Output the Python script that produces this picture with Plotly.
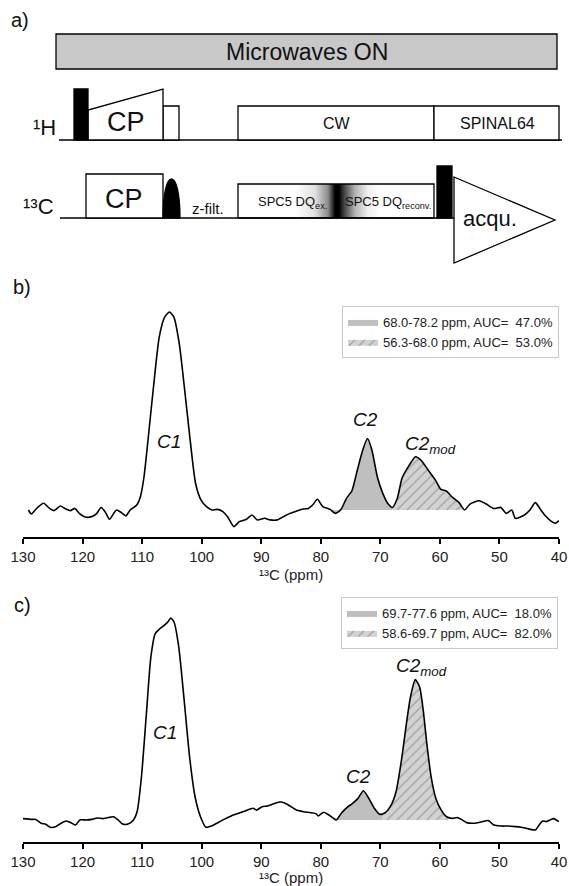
import numpy as np
import plotly.graph_objects as go

# ---------------- spectral data (13C ppm, relative intensity) ----------------
ppm_b = [129.08, 128.60, 127.56, 126.52, 125.55, 124.81, 123.72, 122.98, 122.07, 121.27,
         120.54, 119.32, 118.22, 117.61, 116.88, 116.15, 115.48, 114.32, 113.53, 112.73,
         112.00, 110.90, 110.29, 109.68, 108.95, 108.03, 107.12, 106.20, 105.41, 104.68,
         103.76, 102.85, 101.93, 101.02, 100.10, 99.19, 98.27, 97.36, 96.44, 95.65,
         94.61, 93.69, 92.47, 91.56, 90.64, 89.42, 88.51, 87.29, 86.07, 85.15,
         84.24, 83.32, 82.10, 81.37, 80.58, 79.66, 78.44, 77.53, 76.61, 75.69,
         74.78, 73.86, 72.95, 72.16, 71.42, 70.51, 69.59, 68.68, 67.95, 67.15,
         66.36, 65.32, 64.10, 63.19, 61.97, 60.75, 59.83, 58.92, 58.00, 56.78,
         55.86, 54.95, 53.42, 52.20, 50.98, 49.76, 48.85, 47.93, 47.32, 45.80,
         44.88, 43.97, 43.05, 42.14, 41.22, 40.61, 40.00]
int_b = [0.0, -2.0, 1.3, 3.4, 0.8, -0.3, 2.0, 0.8, -0.3, 0.8,
         -1.7, -3.7, -3.0, -1.7, 1.3, -1.2, -4.7, 0.0, -1.2, -3.0,
         0.0, 2.5, 6.7, 16.8, 37.0, 63.9, 87.4, 97.5, 100.0, 97.5,
         84.0, 60.5, 35.3, 13.4, 5.0, 1.7, 0.0, 0.3, -0.8, -3.4,
         -8.4, -5.9, -4.7, -2.5, -5.0, -4.2, -5.0, -5.0, -3.0, -1.7,
         -0.8, 0.3, 0.8, 2.5, 5.4, 1.7, 0.3, -1.7, 0.3, 5.9,
         9.7, 20.2, 30.3, 36.1, 30.3, 16.8, 8.4, 3.0, 1.3, 5.9,
         16.0, 21.8, 26.9, 25.2, 20.2, 15.1, 10.4, 9.6, 6.7, 3.7,
         0.0, 3.0, 4.7, 3.0, 0.8, 1.3, -1.7, 0.0, -4.2, -2.5,
         0.0, 3.7, 0.0, -3.4, -5.9, -6.7, -5.4]

ppm_c = [130.00, 128.48, 127.87, 126.96, 126.17, 125.44, 124.53, 123.61, 122.70, 121.79,
         121.18, 120.45, 119.36, 118.45, 117.53, 116.62, 115.71, 114.80, 114.01, 113.28,
         112.36, 111.45, 110.84, 110.11, 109.32, 108.53, 107.80, 107.20, 106.28, 105.68,
         105.19, 104.64, 103.85, 102.94, 102.03, 101.11, 100.20, 99.29, 98.38, 97.47,
         96.25, 95.03, 93.82, 92.60, 91.38, 90.78, 89.86, 88.95, 87.74, 86.82,
         85.91, 85.00, 84.09, 82.87, 81.66, 80.74, 80.44, 79.53, 78.92, 78.01,
         77.40, 76.49, 75.57, 74.66, 73.75, 72.84, 71.93, 71.01, 70.10, 69.19,
         68.28, 67.36, 66.45, 65.54, 64.93, 64.14, 63.41, 62.80, 62.20, 61.47,
         60.68, 59.77, 58.86, 57.94, 57.03, 56.42, 55.51, 54.29, 53.07, 51.86,
         50.95, 49.73, 48.51, 47.30, 46.39, 45.47, 44.86, 43.95, 43.34, 42.74,
         42.13, 41.52, 40.91, 40.00]
int_c = [0.7, 0.3, 0.3, -1.6, -2.1, -3.6, -3.3, -1.6, -0.5, -1.6,
         -2.5, 0.0, 0.0, 0.3, 1.0, 0.7, 1.2, 1.6, 0.0, -2.0,
         -2.0, 0.0, 4.1, 21.4, 51.1, 80.7, 92.3, 94.2, 96.4, 98.0,
         100.0, 98.0, 85.7, 59.3, 31.3, 11.5, 1.6, -3.6, -3.0, -1.6,
         0.3, 2.0, 3.3, 4.6, 5.8, 4.9, 6.6, 6.9, 8.2, 8.9,
         8.2, 6.6, 4.9, 4.1, 3.6, 3.0, 2.0, 3.8, 3.0, 1.2,
         0.0, 3.6, 6.3, 8.2, 10.7, 14.5, 10.7, 5.8, 2.8, 3.6,
         6.9, 14.0, 29.7, 49.4, 61.0, 69.5, 65.9, 54.4, 37.9, 21.4,
         10.7, 4.9, 1.6, 0.8, 1.2, 0.3, -1.3, -1.6, -1.0, -0.3,
         -2.5, -3.0, -3.0, -3.3, -3.6, -4.1, -4.6, -4.9, -2.5, -0.5,
         -0.8, 0.0, 0.7, -0.8]

# integration regions (ppm high, ppm low) and their legend texts
regions_b = [(78.2, 68.0), (68.0, 56.3)]
labels_b = ["68.0-78.2 ppm, AUC=\u00a0\u00a047.0%", "56.3-68.0 ppm, AUC=\u00a0\u00a053.0%"]
regions_c = [(77.6, 69.7), (69.7, 58.6)]
labels_c = ["69.7-77.6 ppm, AUC=\u00a0\u00a018.0%", "58.6-69.7 ppm, AUC=\u00a0\u00a082.0%"]

tick_vals = [130, 120, 110, 100, 90, 80, 70, 60, 50, 40]

# peak labels: (text, ppm, intensity)
peaks_b = [("<i>C1</i>", 105.5, 34.8), ("<i>C2</i>", 72.5, 45.5), ("<i>C2<sub>mod</sub></i>", 61.6, 33.0)]
peaks_c = [("<i>C1</i>", 106.2, 43.1), ("<i>C2</i>", 73.7, 21.3), ("<i>C2<sub>mod</sub></i>", 63.1, 75.5)]

# ---------------- pulse-sequence schematic (timeline units) ----------------
H_BASE, C_BASE = 140, 218
mw_block = (56, 557, 34, 69)                                    # x0, x1, y0, y1
h_blocks = [(163, 179, 106), (238, 434, 106), (434, 559, 106)]  # x0, x1, top
h_pulse = (74, 88, 89)
h_cp_ramp = [(88, H_BASE), (88, 110), (163, 89), (163, H_BASE)]
c_cp_block = (86, 163, 174)
c_shaped = (163, 180, 178)
c_spc5 = (238, 434, 184)
c_pulse = (437, 452, 166)
acq_tri = [(454, 177), (555, 220), (454, 263)]
grad_x = [238, 295, 315, 328, 335, 339, 345, 355, 368, 380, 434]
grad_z = [0, 0, 0.12, 0.45, 1.0, 1.0, 0.7, 0.3, 0.06, 0, 0]

FONT = "Liberation Sans, Arial, Helvetica, sans-serif"
W, H = 569, 886
X0, X1 = 23, 559


def px_y(p):
    return 1 - p / H


fig = go.Figure()


def add_spectrum(ppm, inten, regions, labels, xa, ya, legend):
    p = np.array(ppm)
    y = np.array(inten)
    order = np.argsort(p)
    for i, ((hi, lo), lab) in enumerate(zip(regions, labels)):
        m = (p < hi) & (p > lo)
        xs = [hi] + list(p[m]) + [lo]
        ys = [float(np.interp(hi, p[order], y[order]))] + list(y[m]) + [float(np.interp(lo, p[order], y[order]))]
        fig.add_trace(go.Scatter(x=[hi, lo], y=[0, 0], mode="lines", line=dict(width=0),
                                 showlegend=False, hoverinfo="skip", xaxis=xa, yaxis=ya))
        kw = dict(fillcolor="#bfbfbf")
        if i == 1:
            kw = dict(fillcolor="rgba(0,0,0,0)",
                      fillpattern=dict(shape="/", bgcolor="#d2d2d2", fgcolor="#a2a2a2",
                                       size=7, solidity=0.18, fillmode="replace"))
        fig.add_trace(go.Scatter(x=xs, y=ys, mode="lines", fill="tonexty",
                                 line=dict(width=0, shape="spline", smoothing=0.6),
                                 name=lab, legend=legend, hoverinfo="skip",
                                 xaxis=xa, yaxis=ya, **kw))
    fig.add_trace(go.Scatter(x=ppm, y=inten, mode="lines",
                             line=dict(color="black", width=1.6, shape="spline", smoothing=0.6),
                             showlegend=False, hoverinfo="skip", xaxis=xa, yaxis=ya))


add_spectrum(ppm_b, int_b, regions_b, labels_b, "x", "y", "legend")
add_spectrum(ppm_c, int_c, regions_c, labels_c, "x2", "y2", "legend2")

# gradient inside the SPC5 block (heatmap on schematic axes)
gx_edges = np.arange(c_spc5[0], c_spc5[1] + 1, 1.0)
gx_cent = (gx_edges[:-1] + gx_edges[1:]) / 2
gz = np.interp(gx_cent, grad_x, grad_z)
fig.add_trace(go.Heatmap(x=gx_edges, y=[c_spc5[2], C_BASE], z=[gz], zmin=0, zmax=1,
                         colorscale=[[0, "white"], [1, "black"]], showscale=False,
                         hoverinfo="skip", xaxis="x3", yaxis="y3"))

xaxis_style = dict(range=[130, 40], tickvals=tick_vals, showline=True, linecolor="black",
                   linewidth=1.6, ticks="outside", ticklen=5, tickwidth=1.6, tickcolor="black",
                   tickfont=dict(size=15, color="#222", family=FONT), showgrid=False,
                   zeroline=False, fixedrange=True, domain=[X0 / W, X1 / W],
                   automargin=False)

fig.update_layout(
    width=W, height=H, margin=dict(l=0, r=0, t=0, b=0, autoexpand=False),
    paper_bgcolor="white", plot_bgcolor="rgba(0,0,0,0)",
    font=dict(family=FONT, color="#111"),
    xaxis=dict(anchor="y", **xaxis_style),
    yaxis=dict(domain=[px_y(537), px_y(300)], range=[(510 - 537) / 1.98, (510 - 300) / 1.98],
               visible=False, fixedrange=True, automargin=False),
    xaxis2=dict(anchor="y2", **xaxis_style),
    yaxis2=dict(domain=[px_y(842), px_y(600)], range=[(820 - 842) / 2.02, (820 - 600) / 2.02],
                visible=False, fixedrange=True, automargin=False),
    xaxis3=dict(domain=[0, 1], range=[0, W], visible=False, anchor="y3", fixedrange=True,
                automargin=False),
    yaxis3=dict(domain=[px_y(270), 1], range=[270, 0], visible=False, anchor="x3", fixedrange=True,
                automargin=False),
    legend=dict(x=342 / W, y=px_y(306), xanchor="left", yanchor="top", bgcolor="white",
                bordercolor="#c8c8c8", borderwidth=1, font=dict(size=13, color="#222", family=FONT),
                tracegroupgap=0, itemwidth=30, traceorder="normal"),
    legend2=dict(x=341 / W, y=px_y(597), xanchor="left", yanchor="top", bgcolor="white",
                 bordercolor="#c8c8c8", borderwidth=1, font=dict(size=13, color="#222", family=FONT),
                 tracegroupgap=0, itemwidth=30, traceorder="normal"),
    showlegend=True,
)

# ---------------- schematic shapes ----------------
LW = 1.3
sh = []
ref = dict(xref="x3", yref="y3")
sh.append(dict(type="rect", x0=mw_block[0], x1=mw_block[1], y0=mw_block[2], y1=mw_block[3],
               fillcolor="#c8c8c8", line=dict(color="black", width=LW), **ref))
sh.append(dict(type="line", x0=59, x1=562, y0=H_BASE, y1=H_BASE, line=dict(color="black", width=LW), **ref))
sh.append(dict(type="line", x0=60, x1=454, y0=C_BASE, y1=C_BASE, line=dict(color="black", width=LW), **ref))
for x0, x1, top in h_blocks:
    sh.append(dict(type="rect", x0=x0, x1=x1, y0=top, y1=H_BASE, fillcolor="white",
                   line=dict(color="black", width=LW), **ref))
path = "M " + " L ".join(f"{a},{b}" for a, b in h_cp_ramp) + " Z"
sh.append(dict(type="path", path=path, fillcolor="white", line=dict(color="black", width=LW), **ref))
sh.append(dict(type="rect", x0=h_pulse[0], x1=h_pulse[1], y0=h_pulse[2], y1=H_BASE,
               fillcolor="black", line=dict(color="black", width=LW), **ref))
sh.append(dict(type="rect", x0=c_cp_block[0], x1=c_cp_block[1], y0=c_cp_block[2], y1=C_BASE,
               fillcolor="white", line=dict(color="black", width=LW), **ref))
a, b, t = c_shaped
sh.append(dict(type="path", path=f"M {a},{C_BASE} C {a},{t - 12} {b},{t - 12} {b},{C_BASE} Z",
               fillcolor="black", line=dict(color="black", width=LW), **ref))
sh.append(dict(type="rect", x0=c_spc5[0], x1=c_spc5[1], y0=c_spc5[2], y1=C_BASE,
               fillcolor="rgba(0,0,0,0)", line=dict(color="black", width=LW), **ref))
sh.append(dict(type="rect", x0=c_pulse[0], x1=c_pulse[1], y0=c_pulse[2], y1=C_BASE,
               fillcolor="black", line=dict(color="black", width=LW), **ref))
path = "M " + " L ".join(f"{a},{b}" for a, b in acq_tri) + " Z"
sh.append(dict(type="path", path=path, fillcolor="white", line=dict(color="black", width=LW), **ref))
fig.update_layout(shapes=sh)

# ---------------- text ----------------
ann = []


def txt(text, x, y, size, xref="x3", yref="y3", xanchor="center", color="#111"):
    ann.append(dict(text=text, x=x, y=y, xref=xref, yref=yref, xanchor=xanchor, yanchor="middle",
                    showarrow=False, font=dict(size=size, color=color, family=FONT)))


txt("Microwaves ON", 307, 52, 23)
txt("¹H", 58, 127, 22, xanchor="right")
txt("¹³C", 56, 206, 22, xanchor="right")
txt("CP", 126, 122, 27)
txt("CP", 124, 199, 27)
txt("CW", 337, 123, 16)
txt("SPINAL64", 497, 123, 16)
txt("z-filt.", 208, 208, 15)
txt("SPC5 DQ<sub>ex.</sub>", 292, 202, 13)
txt("SPC5 DQ<sub>reconv.</sub>", 388, 202, 13)
txt("acqu.", 490, 218, 22)

txt("a)", 20 / W, px_y(20), 20, xref="paper", yref="paper")
txt("b)", 22 / W, px_y(287), 20, xref="paper", yref="paper")
txt("c)", 22 / W, px_y(605), 20, xref="paper", yref="paper")

for t_, xp, yp in peaks_b:
    txt(t_, xp, yp, 19, xref="x", yref="y")
for t_, xp, yp in peaks_c:
    txt(t_, xp, yp, 19, xref="x2", yref="y2")

txt("¹³C (ppm)", (X0 + X1) / 2 / W, px_y(574), 15, xref="paper", yref="paper", color="#222")
txt("¹³C (ppm)", (X0 + X1) / 2 / W, px_y(877), 15, xref="paper", yref="paper", color="#222")
fig.update_layout(annotations=ann)

fig.write_html("out.html")
